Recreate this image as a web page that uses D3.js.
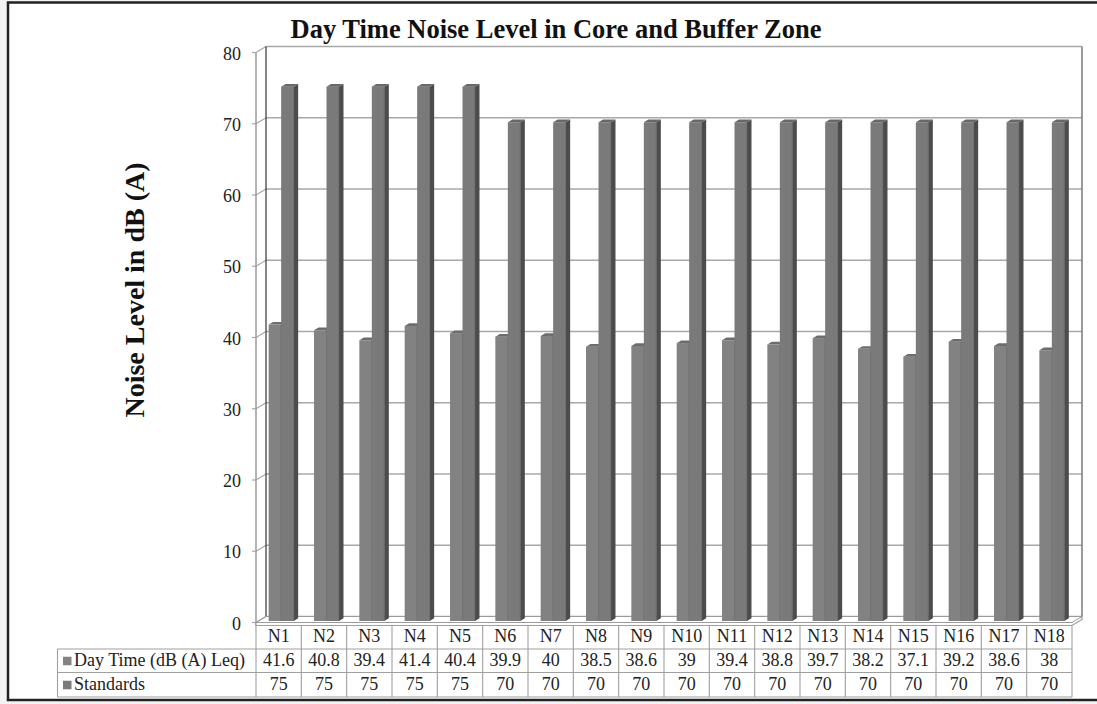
<!DOCTYPE html>
<html><head><meta charset="utf-8">
<script src="https://cdn.jsdelivr.net/npm/d3@7"></script>
<style>
html,body{margin:0;padding:0;background:#f3f3f3;}
svg{display:block;}
</style></head>
<body>
<svg id="chart" width="1097" height="704"></svg>
<script>
const categories = ["N1","N2","N3","N4","N5","N6","N7","N8","N9","N10","N11","N12","N13","N14","N15","N16","N17","N18"];
const dayTime = [41.6,40.8,39.4,41.4,40.4,39.9,40,38.5,38.6,39,39.4,38.8,39.7,38.2,37.1,39.2,38.6,38];
const standards = [75,75,75,75,75,70,70,70,70,70,70,70,70,70,70,70,70,70];
const dayTimeLabels = ["41.6","40.8","39.4","41.4","40.4","39.9","40","38.5","38.6","39","39.4","38.8","39.7","38.2","37.1","39.2","38.6","38"];
const seriesNames = ["Day Time (dB (A) Leq)","Standards"];
const yTicks = [0,10,20,30,40,50,60,70,80];
const titleText = "Day Time Noise Level in Core and Buffer Zone";
const yTitle = "Noise Level in dB (A)";

const svg = d3.select("#chart");
const serif = "'Liberation Serif','DejaVu Serif',serif";

// frame
svg.append("rect").attr("x",8).attr("y",2.5).attr("width",1100).attr("height",697.5)
  .attr("fill","#fff").attr("stroke","#222").attr("stroke-width",2.5);

// geometry
const xL = 256, xR = 1072;          // front left/right
const DX = 10, DY = -6;             // depth offset
const y = d3.scaleLinear().domain([0,80]).range([622.5,52.5]);
const x = d3.scaleBand().domain(categories).range([xL,xR]).padding(0);
const series = [dayTime, standards];
const fronts = ["#828282","#7a7a7a"];
const sides = ["#505050","#4c4c4c"];
const tops = ["#6c6c6c","#686868"];

const g = svg.append("g");
const gridCol = "#a8a8a8";

// back wall
g.append("rect").attr("x",xL+DX).attr("y",y(80)+DY).attr("width",xR-xL).attr("height",y(0)-y(80))
  .attr("fill","#fff").attr("stroke","none");
// gridlines on back wall and side wall
yTicks.forEach(t=>{
  g.append("line").attr("x1",xL+DX).attr("x2",xR+DX).attr("y1",y(t)+DY).attr("y2",y(t)+DY)
    .attr("stroke",gridCol).attr("stroke-width",1.3);
  g.append("line").attr("x1",xL).attr("x2",xL+DX).attr("y1",y(t)).attr("y2",y(t)+DY)
    .attr("stroke",gridCol).attr("stroke-width",1.2);
  g.append("line").attr("x1",xL-4).attr("x2",xL).attr("y1",y(t)).attr("y2",y(t))
    .attr("stroke",gridCol).attr("stroke-width",1.2);
});
// back wall right edge
g.append("line").attr("x1",xR+DX).attr("x2",xR+DX).attr("y1",y(80)+DY).attr("y2",y(0)+DY)
  .attr("stroke","#7a7a7a").attr("stroke-width",1.5);
// back wall left edge (dark)
g.append("line").attr("x1",xL+DX).attr("x2",xL+DX).attr("y1",y(80)+DY).attr("y2",y(0)+DY)
  .attr("stroke","#333").attr("stroke-width",1.2);
// side wall front edge
g.append("line").attr("x1",xL).attr("x2",xL).attr("y1",y(80)).attr("y2",y(0)+3)
  .attr("stroke","#9a9a9a").attr("stroke-width",1.5);

// floor slab
const fy = y(0);
g.append("path").attr("d",`M${xL},${fy} L${xL+DX},${fy+DY} L${xR+DX},${fy+DY} L${xR+DX},${fy+DY+3} L${xR},${fy+3} L${xL},${fy+3} Z`)
  .attr("fill","#fff").attr("stroke","#9a9a9a").attr("stroke-width",1.2);
g.append("line").attr("x1",xL).attr("x2",xR).attr("y1",fy).attr("y2",fy).attr("stroke","#9a9a9a").attr("stroke-width",1);
g.append("line").attr("x1",xR).attr("x2",xR+DX).attr("y1",fy).attr("y2",fy+DY).attr("stroke","#9a9a9a").attr("stroke-width",1);

// bars
const bw = 12.5, fdx = 2.5, fdy = -1.5, bdx = 4.5, bdy = -2.7;
categories.forEach((c,i)=>{
  const cx = x(c) + x.bandwidth()/2;
  series.forEach((s,k)=>{
    const x0 = cx - bw + k*bw + fdx;
    const x1 = x0 + bw;
    const yb = y(0) + fdy, yt = y(s[i]) + fdy;
    g.append("rect").attr("x",x0).attr("y",yt).attr("width",bw).attr("height",yb-yt).attr("fill",fronts[k]);
    g.append("path").attr("d",`M${x1},${yt} L${x1+bdx},${yt+bdy} L${x1+bdx},${yb+bdy} L${x1},${yb} Z`).attr("fill",sides[k]);
    g.append("path").attr("d",`M${x0},${yt} L${x0+bdx},${yt+bdy} L${x1+bdx},${yt+bdy} L${x1},${yt} Z`).attr("fill",tops[k]);
    g.append("line").attr("x1",x1).attr("x2",x1).attr("y1",yt).attr("y2",yb).attr("stroke","#5e5e5e").attr("stroke-width",0.6);
  });
});

// y tick labels
yTicks.forEach(t=>{
  svg.append("text").attr("x",241).attr("y",y(t)+3).attr("text-anchor","end").attr("dominant-baseline","middle")
    .attr("font-family",serif).attr("font-size",18).attr("fill","#222").text(t);
});

// title
svg.append("text").attr("x",556).attr("y",38).attr("text-anchor","middle")
  .attr("font-family",serif).attr("font-weight","bold").attr("font-size",26.5).attr("fill","#111").text(titleText);
// y title
svg.append("text").attr("transform","translate(144,290) rotate(-90)").attr("text-anchor","middle")
  .attr("font-family",serif).attr("font-weight","bold").attr("font-size",28).attr("fill","#111").text(yTitle);

// data table
const rowTop = [625.5, 649, 672.5], rowBot = 697;
const tLeft = 57.5;
const tg = svg.append("g").attr("stroke","#a0a0a0").attr("stroke-width",1.1);
tg.append("line").attr("x1",xL).attr("x2",xR).attr("y1",rowTop[0]).attr("y2",rowTop[0]);
[rowTop[1],rowTop[2],rowBot].forEach(yy=>tg.append("line").attr("x1",tLeft).attr("x2",xR).attr("y1",yy).attr("y2",yy));
tg.append("line").attr("x1",tLeft).attr("x2",tLeft).attr("y1",rowTop[1]).attr("y2",rowBot);
categories.forEach(c=>tg.append("line").attr("x1",x(c)).attr("x2",x(c)).attr("y1",rowTop[0]).attr("y2",rowBot));
tg.append("line").attr("x1",xR).attr("x2",xR).attr("y1",rowTop[0]).attr("y2",rowBot);

const rows = [categories, dayTimeLabels, standards.map(String)];
rows.forEach((r,ri)=>{
  const ym = ri<2 ? (rowTop[ri]+rowTop[ri+1])/2 : (rowTop[2]+rowBot)/2;
  r.forEach((v,i)=>{
    svg.append("text").attr("x",x(categories[i])+x.bandwidth()/2).attr("y",ym+1)
      .attr("text-anchor","middle").attr("dominant-baseline","middle")
      .attr("font-family",serif).attr("font-size",18).attr("fill","#222").text(v);
  });
});
seriesNames.forEach((n,k)=>{
  const ym = k===0 ? (rowTop[1]+rowTop[2])/2 : (rowTop[2]+rowBot)/2;
  svg.append("rect").attr("x",63).attr("y",ym-4).attr("width",8.5).attr("height",8.5).attr("fill",fronts[k]);
  svg.append("text").attr("x",74).attr("y",ym+1).attr("dominant-baseline","middle")
    .attr("font-family",serif).attr("font-size",18).attr("fill","#222").text(n);
});
</script>
</body></html>
